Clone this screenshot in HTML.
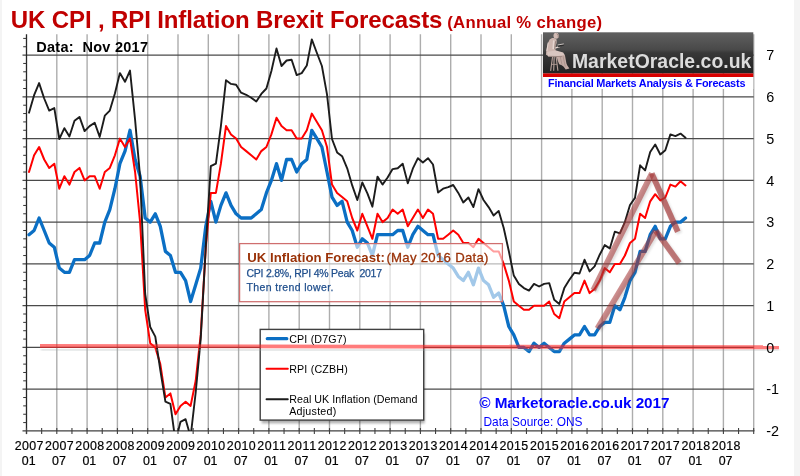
<!DOCTYPE html><html><head><meta charset="utf-8"><title>UK CPI, RPI Inflation Brexit Forecasts</title><style>
html,body{margin:0;padding:0;}
body{width:800px;height:476px;position:relative;overflow:hidden;background:#f4f4f4;font-family:"Liberation Sans",sans-serif;}
#canvas{position:absolute;left:2px;top:0;width:792px;height:476px;background:#fff;}
</style></head><body>
<div id="canvas"></div>
<svg width="800" height="476" viewBox="0 0 800 476" style="position:absolute;left:0;top:0">
<defs><clipPath id="plot"><rect x="24.5" y="34.2" width="731.2" height="396.7"/></clipPath>
<linearGradient id="lg" x1="0" y1="0" x2="0" y2="1"><stop offset="0" stop-color="#606060"/><stop offset="0.42" stop-color="#494949"/><stop offset="0.5" stop-color="#383838"/><stop offset="1" stop-color="#222"/></linearGradient>
<filter id="sh" x="-5%" y="-5%" width="115%" height="115%"><feGaussianBlur stdDeviation="1.2"/></filter>
<filter id="b1"><feGaussianBlur stdDeviation="0.8"/></filter>
</defs>
<line x1="56.80" y1="34.2" x2="56.80" y2="430.9" stroke="#adadad" stroke-width="1.4"/>
<line x1="87.10" y1="34.2" x2="87.10" y2="430.9" stroke="#adadad" stroke-width="1.4"/>
<line x1="117.40" y1="34.2" x2="117.40" y2="430.9" stroke="#adadad" stroke-width="1.4"/>
<line x1="147.70" y1="34.2" x2="147.70" y2="430.9" stroke="#adadad" stroke-width="1.4"/>
<line x1="178.00" y1="34.2" x2="178.00" y2="430.9" stroke="#adadad" stroke-width="1.4"/>
<line x1="208.30" y1="34.2" x2="208.30" y2="430.9" stroke="#adadad" stroke-width="1.4"/>
<line x1="238.60" y1="34.2" x2="238.60" y2="430.9" stroke="#adadad" stroke-width="1.4"/>
<line x1="268.90" y1="34.2" x2="268.90" y2="430.9" stroke="#adadad" stroke-width="1.4"/>
<line x1="299.20" y1="34.2" x2="299.20" y2="430.9" stroke="#adadad" stroke-width="1.4"/>
<line x1="329.50" y1="34.2" x2="329.50" y2="430.9" stroke="#adadad" stroke-width="1.4"/>
<line x1="359.80" y1="34.2" x2="359.80" y2="430.9" stroke="#adadad" stroke-width="1.4"/>
<line x1="390.10" y1="34.2" x2="390.10" y2="430.9" stroke="#adadad" stroke-width="1.4"/>
<line x1="420.40" y1="34.2" x2="420.40" y2="430.9" stroke="#adadad" stroke-width="1.4"/>
<line x1="450.70" y1="34.2" x2="450.70" y2="430.9" stroke="#adadad" stroke-width="1.4"/>
<line x1="481.00" y1="34.2" x2="481.00" y2="430.9" stroke="#adadad" stroke-width="1.4"/>
<line x1="511.30" y1="34.2" x2="511.30" y2="430.9" stroke="#adadad" stroke-width="1.4"/>
<line x1="541.60" y1="34.2" x2="541.60" y2="430.9" stroke="#adadad" stroke-width="1.4"/>
<line x1="571.90" y1="34.2" x2="571.90" y2="430.9" stroke="#adadad" stroke-width="1.4"/>
<line x1="602.20" y1="34.2" x2="602.20" y2="430.9" stroke="#adadad" stroke-width="1.4"/>
<line x1="632.50" y1="34.2" x2="632.50" y2="430.9" stroke="#adadad" stroke-width="1.4"/>
<line x1="662.80" y1="34.2" x2="662.80" y2="430.9" stroke="#adadad" stroke-width="1.4"/>
<line x1="693.10" y1="34.2" x2="693.10" y2="430.9" stroke="#adadad" stroke-width="1.4"/>
<line x1="723.40" y1="34.2" x2="723.40" y2="430.9" stroke="#adadad" stroke-width="1.4"/>
<line x1="753.70" y1="34.2" x2="753.70" y2="430.9" stroke="#adadad" stroke-width="1.4"/>
<line x1="22.5" y1="389.18" x2="753.7" y2="389.18" stroke="#4a4a4a" stroke-width="1.3"/>
<line x1="22.5" y1="347.42" x2="753.7" y2="347.42" stroke="#4a4a4a" stroke-width="1.3"/>
<line x1="22.5" y1="305.66" x2="753.7" y2="305.66" stroke="#4a4a4a" stroke-width="1.3"/>
<line x1="22.5" y1="263.90" x2="753.7" y2="263.90" stroke="#4a4a4a" stroke-width="1.3"/>
<line x1="22.5" y1="222.14" x2="753.7" y2="222.14" stroke="#4a4a4a" stroke-width="1.3"/>
<line x1="22.5" y1="180.38" x2="753.7" y2="180.38" stroke="#4a4a4a" stroke-width="1.3"/>
<line x1="22.5" y1="138.62" x2="753.7" y2="138.62" stroke="#4a4a4a" stroke-width="1.3"/>
<line x1="22.5" y1="96.86" x2="753.7" y2="96.86" stroke="#4a4a4a" stroke-width="1.3"/>
<line x1="22.5" y1="55.10" x2="753.7" y2="55.10" stroke="#4a4a4a" stroke-width="1.3"/>
<line x1="26.50" y1="34.2" x2="26.50" y2="433.9" stroke="#262626" stroke-width="1.3"/>
<line x1="22.5" y1="430.94" x2="754.4" y2="430.94" stroke="#404040" stroke-width="1.3"/>
<line x1="23.2" y1="422.59" x2="26.5" y2="422.59" stroke="#333" stroke-width="1"/>
<line x1="23.2" y1="414.24" x2="26.5" y2="414.24" stroke="#333" stroke-width="1"/>
<line x1="23.2" y1="405.88" x2="26.5" y2="405.88" stroke="#333" stroke-width="1"/>
<line x1="23.2" y1="397.53" x2="26.5" y2="397.53" stroke="#333" stroke-width="1"/>
<line x1="23.2" y1="380.83" x2="26.5" y2="380.83" stroke="#333" stroke-width="1"/>
<line x1="23.2" y1="372.48" x2="26.5" y2="372.48" stroke="#333" stroke-width="1"/>
<line x1="23.2" y1="364.12" x2="26.5" y2="364.12" stroke="#333" stroke-width="1"/>
<line x1="23.2" y1="355.77" x2="26.5" y2="355.77" stroke="#333" stroke-width="1"/>
<line x1="23.2" y1="339.07" x2="26.5" y2="339.07" stroke="#333" stroke-width="1"/>
<line x1="23.2" y1="330.72" x2="26.5" y2="330.72" stroke="#333" stroke-width="1"/>
<line x1="23.2" y1="322.36" x2="26.5" y2="322.36" stroke="#333" stroke-width="1"/>
<line x1="23.2" y1="314.01" x2="26.5" y2="314.01" stroke="#333" stroke-width="1"/>
<line x1="23.2" y1="297.31" x2="26.5" y2="297.31" stroke="#333" stroke-width="1"/>
<line x1="23.2" y1="288.96" x2="26.5" y2="288.96" stroke="#333" stroke-width="1"/>
<line x1="23.2" y1="280.60" x2="26.5" y2="280.60" stroke="#333" stroke-width="1"/>
<line x1="23.2" y1="272.25" x2="26.5" y2="272.25" stroke="#333" stroke-width="1"/>
<line x1="23.2" y1="255.55" x2="26.5" y2="255.55" stroke="#333" stroke-width="1"/>
<line x1="23.2" y1="247.20" x2="26.5" y2="247.20" stroke="#333" stroke-width="1"/>
<line x1="23.2" y1="238.84" x2="26.5" y2="238.84" stroke="#333" stroke-width="1"/>
<line x1="23.2" y1="230.49" x2="26.5" y2="230.49" stroke="#333" stroke-width="1"/>
<line x1="23.2" y1="213.79" x2="26.5" y2="213.79" stroke="#333" stroke-width="1"/>
<line x1="23.2" y1="205.44" x2="26.5" y2="205.44" stroke="#333" stroke-width="1"/>
<line x1="23.2" y1="197.08" x2="26.5" y2="197.08" stroke="#333" stroke-width="1"/>
<line x1="23.2" y1="188.73" x2="26.5" y2="188.73" stroke="#333" stroke-width="1"/>
<line x1="23.2" y1="172.03" x2="26.5" y2="172.03" stroke="#333" stroke-width="1"/>
<line x1="23.2" y1="163.68" x2="26.5" y2="163.68" stroke="#333" stroke-width="1"/>
<line x1="23.2" y1="155.32" x2="26.5" y2="155.32" stroke="#333" stroke-width="1"/>
<line x1="23.2" y1="146.97" x2="26.5" y2="146.97" stroke="#333" stroke-width="1"/>
<line x1="23.2" y1="130.27" x2="26.5" y2="130.27" stroke="#333" stroke-width="1"/>
<line x1="23.2" y1="121.92" x2="26.5" y2="121.92" stroke="#333" stroke-width="1"/>
<line x1="23.2" y1="113.56" x2="26.5" y2="113.56" stroke="#333" stroke-width="1"/>
<line x1="23.2" y1="105.21" x2="26.5" y2="105.21" stroke="#333" stroke-width="1"/>
<line x1="23.2" y1="88.51" x2="26.5" y2="88.51" stroke="#333" stroke-width="1"/>
<line x1="23.2" y1="80.16" x2="26.5" y2="80.16" stroke="#333" stroke-width="1"/>
<line x1="23.2" y1="71.80" x2="26.5" y2="71.80" stroke="#333" stroke-width="1"/>
<line x1="23.2" y1="63.45" x2="26.5" y2="63.45" stroke="#333" stroke-width="1"/>
<line x1="23.2" y1="46.75" x2="26.5" y2="46.75" stroke="#333" stroke-width="1"/>
<line x1="23.2" y1="38.40" x2="26.5" y2="38.40" stroke="#333" stroke-width="1"/>
<line x1="26.50" y1="428.1" x2="26.50" y2="434.1" stroke="#404040" stroke-width="1.1"/>
<line x1="41.65" y1="428.1" x2="41.65" y2="434.1" stroke="#404040" stroke-width="1.1"/>
<line x1="56.80" y1="428.1" x2="56.80" y2="434.1" stroke="#404040" stroke-width="1.1"/>
<line x1="71.95" y1="428.1" x2="71.95" y2="434.1" stroke="#404040" stroke-width="1.1"/>
<line x1="87.10" y1="428.1" x2="87.10" y2="434.1" stroke="#404040" stroke-width="1.1"/>
<line x1="102.25" y1="428.1" x2="102.25" y2="434.1" stroke="#404040" stroke-width="1.1"/>
<line x1="117.40" y1="428.1" x2="117.40" y2="434.1" stroke="#404040" stroke-width="1.1"/>
<line x1="132.55" y1="428.1" x2="132.55" y2="434.1" stroke="#404040" stroke-width="1.1"/>
<line x1="147.70" y1="428.1" x2="147.70" y2="434.1" stroke="#404040" stroke-width="1.1"/>
<line x1="162.85" y1="428.1" x2="162.85" y2="434.1" stroke="#404040" stroke-width="1.1"/>
<line x1="178.00" y1="428.1" x2="178.00" y2="434.1" stroke="#404040" stroke-width="1.1"/>
<line x1="193.15" y1="428.1" x2="193.15" y2="434.1" stroke="#404040" stroke-width="1.1"/>
<line x1="208.30" y1="428.1" x2="208.30" y2="434.1" stroke="#404040" stroke-width="1.1"/>
<line x1="223.45" y1="428.1" x2="223.45" y2="434.1" stroke="#404040" stroke-width="1.1"/>
<line x1="238.60" y1="428.1" x2="238.60" y2="434.1" stroke="#404040" stroke-width="1.1"/>
<line x1="253.75" y1="428.1" x2="253.75" y2="434.1" stroke="#404040" stroke-width="1.1"/>
<line x1="268.90" y1="428.1" x2="268.90" y2="434.1" stroke="#404040" stroke-width="1.1"/>
<line x1="284.05" y1="428.1" x2="284.05" y2="434.1" stroke="#404040" stroke-width="1.1"/>
<line x1="299.20" y1="428.1" x2="299.20" y2="434.1" stroke="#404040" stroke-width="1.1"/>
<line x1="314.35" y1="428.1" x2="314.35" y2="434.1" stroke="#404040" stroke-width="1.1"/>
<line x1="329.50" y1="428.1" x2="329.50" y2="434.1" stroke="#404040" stroke-width="1.1"/>
<line x1="344.65" y1="428.1" x2="344.65" y2="434.1" stroke="#404040" stroke-width="1.1"/>
<line x1="359.80" y1="428.1" x2="359.80" y2="434.1" stroke="#404040" stroke-width="1.1"/>
<line x1="374.95" y1="428.1" x2="374.95" y2="434.1" stroke="#404040" stroke-width="1.1"/>
<line x1="390.10" y1="428.1" x2="390.10" y2="434.1" stroke="#404040" stroke-width="1.1"/>
<line x1="405.25" y1="428.1" x2="405.25" y2="434.1" stroke="#404040" stroke-width="1.1"/>
<line x1="420.40" y1="428.1" x2="420.40" y2="434.1" stroke="#404040" stroke-width="1.1"/>
<line x1="435.55" y1="428.1" x2="435.55" y2="434.1" stroke="#404040" stroke-width="1.1"/>
<line x1="450.70" y1="428.1" x2="450.70" y2="434.1" stroke="#404040" stroke-width="1.1"/>
<line x1="465.85" y1="428.1" x2="465.85" y2="434.1" stroke="#404040" stroke-width="1.1"/>
<line x1="481.00" y1="428.1" x2="481.00" y2="434.1" stroke="#404040" stroke-width="1.1"/>
<line x1="496.15" y1="428.1" x2="496.15" y2="434.1" stroke="#404040" stroke-width="1.1"/>
<line x1="511.30" y1="428.1" x2="511.30" y2="434.1" stroke="#404040" stroke-width="1.1"/>
<line x1="526.45" y1="428.1" x2="526.45" y2="434.1" stroke="#404040" stroke-width="1.1"/>
<line x1="541.60" y1="428.1" x2="541.60" y2="434.1" stroke="#404040" stroke-width="1.1"/>
<line x1="556.75" y1="428.1" x2="556.75" y2="434.1" stroke="#404040" stroke-width="1.1"/>
<line x1="571.90" y1="428.1" x2="571.90" y2="434.1" stroke="#404040" stroke-width="1.1"/>
<line x1="587.05" y1="428.1" x2="587.05" y2="434.1" stroke="#404040" stroke-width="1.1"/>
<line x1="602.20" y1="428.1" x2="602.20" y2="434.1" stroke="#404040" stroke-width="1.1"/>
<line x1="617.35" y1="428.1" x2="617.35" y2="434.1" stroke="#404040" stroke-width="1.1"/>
<line x1="632.50" y1="428.1" x2="632.50" y2="434.1" stroke="#404040" stroke-width="1.1"/>
<line x1="647.65" y1="428.1" x2="647.65" y2="434.1" stroke="#404040" stroke-width="1.1"/>
<line x1="662.80" y1="428.1" x2="662.80" y2="434.1" stroke="#404040" stroke-width="1.1"/>
<line x1="677.95" y1="428.1" x2="677.95" y2="434.1" stroke="#404040" stroke-width="1.1"/>
<line x1="693.10" y1="428.1" x2="693.10" y2="434.1" stroke="#404040" stroke-width="1.1"/>
<line x1="708.25" y1="428.1" x2="708.25" y2="434.1" stroke="#404040" stroke-width="1.1"/>
<line x1="723.40" y1="428.1" x2="723.40" y2="434.1" stroke="#404040" stroke-width="1.1"/>
<line x1="738.55" y1="428.1" x2="738.55" y2="434.1" stroke="#404040" stroke-width="1.1"/>
<line x1="753.70" y1="428.1" x2="753.70" y2="434.1" stroke="#404040" stroke-width="1.1"/>
<g clip-path="url(#plot)" fill="none" stroke-linejoin="round" stroke-linecap="round">
<polyline points="29.0,234.7 34.1,230.5 39.1,218.0 44.2,230.5 49.2,243.0 54.3,247.2 59.3,268.1 64.4,272.3 69.4,272.3 74.5,259.7 79.5,259.7 84.6,259.7 89.6,255.5 94.7,243.0 99.7,243.0 104.8,222.1 109.8,209.6 114.9,188.7 119.9,163.7 125.0,151.1 130.0,130.3 135.1,159.5 140.1,176.2 145.2,218.0 150.2,222.1 155.3,213.8 160.3,226.3 165.4,251.4 170.4,255.5 175.5,272.3 180.5,272.3 185.6,280.6 190.6,301.5 195.7,284.8 200.7,268.1 205.8,226.3 210.8,201.3 215.9,222.1 220.9,205.4 226.0,192.9 231.0,205.4 236.1,213.8 241.1,218.0 246.2,218.0 251.2,218.0 256.3,213.8 261.3,209.6 266.4,192.9 271.4,180.4 276.5,163.7 281.5,180.4 286.6,159.5 291.6,159.5 296.7,172.0 301.7,163.7 306.8,159.5 311.8,130.3 316.9,138.6 321.9,147.0 327.0,172.0 332.0,197.1 337.1,205.4 342.1,201.3 347.2,222.1 352.2,230.5 357.3,247.2 362.3,238.8 367.4,243.0 372.4,255.5 377.5,234.7 382.5,234.7 387.6,234.7 392.6,234.7 397.7,230.5 402.7,230.5 407.8,247.2 412.8,234.7 417.9,226.3 422.9,230.5 428.0,234.7 433.0,234.7 438.1,255.5 443.1,259.7 448.2,263.9 453.2,268.1 458.3,276.4 463.3,280.6 468.4,272.3 473.4,284.8 478.5,268.1 483.5,280.6 488.6,284.8 493.6,297.3 498.7,293.1 503.7,305.7 508.8,326.5 513.8,334.9 518.9,347.4 523.9,347.4 529.0,351.6 534.0,343.2 539.1,347.4 544.1,343.2 549.2,347.4 554.2,351.6 559.3,351.6 564.3,343.2 569.4,339.1 574.4,334.9 579.5,334.9 584.5,326.5 589.6,334.9 594.6,334.9 599.7,326.5 604.7,322.4 609.8,322.4 614.8,305.7 619.9,309.8 624.9,297.3 630.0,280.6 635.0,272.3 640.1,251.4 645.1,251.4 650.2,234.7 655.2,226.3 660.3,238.8 665.3,238.8 670.4,226.3 675.4,222.1 680.5,222.1 685.5,218.0" stroke="#0b6fc4" stroke-width="3.3"/>
<polyline points="29.0,172.0 34.1,155.3 39.1,147.0 44.2,159.5 49.2,167.9 54.3,163.7 59.3,188.7 64.4,176.2 69.4,184.6 74.5,172.0 79.5,167.9 84.6,180.4 89.6,176.2 94.7,176.2 99.7,188.7 104.8,172.0 109.8,167.9 114.9,155.3 119.9,138.6 125.0,147.0 130.0,138.6 135.1,172.0 140.1,222.1 145.2,309.8 150.2,343.2 155.3,347.4 160.3,364.1 165.4,397.5 170.4,393.4 175.5,414.2 180.5,405.9 185.6,401.7 190.6,405.9 195.7,380.8 200.7,334.9 205.8,247.2 210.8,192.9 215.9,192.9 220.9,163.7 226.0,126.1 231.0,134.4 236.1,138.6 241.1,147.0 246.2,151.1 251.2,155.3 256.3,159.5 261.3,151.1 266.4,147.0 271.4,134.4 276.5,117.7 281.5,126.1 286.6,130.3 291.6,130.3 296.7,138.6 301.7,138.6 306.8,130.3 311.8,113.6 316.9,121.9 321.9,130.3 327.0,147.0 332.0,184.6 337.1,192.9 342.1,197.1 347.2,201.3 352.2,218.0 357.3,230.5 362.3,213.8 367.4,226.3 372.4,238.8 377.5,213.8 382.5,222.1 387.6,218.0 392.6,209.6 397.7,213.8 402.7,209.6 407.8,226.3 412.8,218.0 417.9,209.6 422.9,218.0 428.0,209.6 433.0,213.8 438.1,238.8 443.1,238.8 448.2,234.7 453.2,230.5 458.3,234.7 463.3,243.0 468.4,243.0 473.4,247.2 478.5,238.8 483.5,243.0 488.6,247.2 493.6,251.4 498.7,251.4 503.7,263.9 508.8,280.6 513.8,301.5 518.9,305.7 523.9,309.8 529.0,309.8 534.0,305.7 539.1,305.7 544.1,305.7 549.2,301.5 554.2,314.0 559.3,318.2 564.3,301.5 569.4,297.3 574.4,293.1 579.5,293.1 584.5,280.6 589.6,293.1 594.6,289.0 599.7,280.6 604.7,268.1 609.8,272.3 614.8,263.9 619.9,263.9 624.9,255.5 630.0,243.0 635.0,238.8 640.1,213.8 645.1,218.0 650.2,201.3 655.2,194.2 660.3,200.4 665.3,197.5 670.4,184.6 675.4,186.6 680.5,181.2 685.5,185.4" stroke="#ff0000" stroke-width="2.0"/>
<polyline points="29.0,112.7 34.1,95.2 39.1,83.1 44.2,98.5 49.2,110.6 54.3,108.1 59.3,139.0 64.4,128.2 69.4,136.5 74.5,120.7 79.5,116.9 84.6,131.1 89.6,126.1 94.7,122.8 99.7,136.9 104.8,115.7 109.8,110.6 114.9,93.5 119.9,73.1 125.0,81.8 130.0,70.6 135.1,119.8 140.1,177.0 145.2,294.0 150.2,327.0 155.3,336.6 160.3,370.0 165.4,401.7 170.4,403.8 175.5,441.8 180.5,421.8 185.6,419.2 190.6,436.8 195.7,392.5 200.7,339.1 205.8,246.4 210.8,166.2 215.9,163.7 220.9,126.1 226.0,80.2 231.0,83.9 236.1,84.7 241.1,92.7 246.2,94.8 251.2,97.7 256.3,101.5 261.3,93.9 266.4,88.5 271.4,71.0 276.5,48.4 281.5,66.0 286.6,60.5 291.6,59.7 296.7,75.1 301.7,73.1 306.8,65.5 311.8,39.4 316.9,53.0 321.9,66.0 327.0,94.4 332.0,139.0 337.1,152.4 342.1,156.2 347.2,168.3 352.2,185.4 357.3,200.0 362.3,182.5 367.4,193.3 372.4,206.7 377.5,176.6 382.5,184.6 387.6,177.5 392.6,169.1 397.7,168.3 402.7,163.7 407.8,183.3 412.8,168.7 417.9,158.2 422.9,162.4 428.0,158.2 433.0,164.5 438.1,192.5 443.1,188.7 448.2,187.1 453.2,185.0 458.3,192.9 463.3,202.5 468.4,197.5 473.4,207.1 478.5,189.1 483.5,200.0 488.6,207.1 493.6,215.5 498.7,210.9 503.7,228.0 508.8,251.0 513.8,275.6 518.9,283.9 523.9,288.1 529.0,290.6 534.0,283.9 539.1,286.5 544.1,283.9 549.2,283.1 554.2,299.8 559.3,304.0 564.3,288.1 569.4,279.8 574.4,272.7 579.5,273.5 584.5,259.7 589.6,271.4 594.6,266.4 599.7,254.7 604.7,245.1 609.8,248.4 614.8,231.7 619.9,233.4 624.9,222.1 630.0,205.0 635.0,197.9 640.1,165.3 645.1,170.4 650.2,152.0 655.2,144.5 660.3,154.5 665.3,150.3 670.4,134.4 675.4,136.1 680.5,133.6 685.5,137.8" stroke="#1c1c1c" stroke-width="1.9"/>
</g>
<rect x="239.6" y="243.6" width="262.8" height="58.1" fill="rgba(255,255,255,0.62)" stroke="#cf6e6e" stroke-width="1.25"/>
<rect x="261.6" y="333.4" width="163.2" height="90.0" fill="#000" opacity="0.30" filter="url(#sh)"/>
<rect x="260.2" y="329.4" width="163.5" height="90.7" fill="#fff" stroke="#404040" stroke-width="1.4"/>
<line x1="267.3" y1="338.65" x2="286.8" y2="338.65" stroke-linecap="round" stroke="#0b6fc4" stroke-width="3.3"/>
<line x1="266.5" y1="368.8" x2="287.8" y2="368.8" stroke-linecap="round" stroke="#ff0000" stroke-width="2.0"/>
<line x1="266.5" y1="399.2" x2="287.8" y2="399.2" stroke-linecap="round" stroke="#1c1c1c" stroke-width="1.9"/>
<g fill="none" stroke-width="5.8" stroke-linecap="butt">
<g stroke="#555" opacity="0.18" filter="url(#b1)" transform="translate(1.6,1.6)"><line x1="593.2" y1="290.2" x2="651.9" y2="173.4"/><line x1="651.7" y1="173.4" x2="677.8" y2="231.8"/><line x1="597.4" y1="328.6" x2="656.0" y2="230.8"/><line x1="655.8" y1="230.8" x2="679.2" y2="263.0"/></g>
<line x1="593.2" y1="290.2" x2="651.9" y2="173.4" stroke="rgba(165,55,55,0.56)"/>
<line x1="651.7" y1="173.4" x2="677.8" y2="231.8" stroke="rgba(165,55,55,0.68)"/>
<line x1="597.4" y1="328.6" x2="656.0" y2="230.8" stroke="rgba(165,55,55,0.56)"/>
<line x1="655.8" y1="230.8" x2="679.2" y2="263.0" stroke="rgba(165,55,55,0.64)"/>
</g>
<line x1="41" y1="349.5" x2="779" y2="350.8" stroke="#9aa4a4" stroke-width="2.0" opacity="0.42" filter="url(#b1)"/>
<line x1="40" y1="346.0" x2="779" y2="347.3" stroke="rgba(255,35,35,0.60)" stroke-width="3.9"/>
<rect x="543" y="32.3" width="210.3" height="41.2" fill="url(#lg)"/>
<rect x="543" y="73.4" width="210.3" height="3.6" fill="#d80000"/>
<rect x="543" y="77" width="210.3" height="12" fill="#fff"/>
<g>
<g stroke="#b9a29b" stroke-width="1.1" fill="none"><line x1="552.6" y1="56.5" x2="550.6" y2="70.8"/><line x1="556.1" y1="56.5" x2="557.9" y2="70.8"/><line x1="554.2" y1="56.5" x2="553.7" y2="70.8"/><line x1="551.4" y1="64.4" x2="557.2" y2="64.4" stroke-width="0.8"/></g>
<path d="M552.1,38.1 L549.6,39.6 L547.6,44.1 L546.3,50.2 L546,54.7 L549.1,56.6 L555.1,56.2 L556.1,51.7 L555.1,48.1 L556.6,43.1 L556.6,39.6 L554.1,37.9 Z" fill="#cdb6af"/>
<path d="M547.1,51.7 L556.1,50.5 L563.2,52.5 L564.9,55.2 L562.2,56.8 L555.1,56.8 L548.1,56.6 Z" fill="#d9c6c0"/>
<path d="M556.6,56.2 L564.9,55.0 L566.4,63.3 L567.2,65.3 L569.4,68.6 L565.7,69.4 L563.7,66.8 L561.7,65.3 L559.2,64.3 L557.6,60.2 Z" fill="#c4aba4"/>
<path d="M560.2,56.5 L562.0,64.8 M563.0,56 L565.3,66.5" stroke="#9c8680" stroke-width="0.6" fill="none"/>
<ellipse cx="556.1" cy="35.8" rx="2.6" ry="3.0" fill="#d2bbb4"/>
<path d="M553.7,41.0 L553.2,48.6 L559.6,46.6" stroke="#e6d6d0" stroke-width="1.5" fill="none" stroke-linejoin="round" stroke-linecap="round"/>
<path d="M557.8,45.3 L563.8,44.2 L564.1,45.4 L558.3,47.2 Z" fill="#2a2a2a"/><path d="M557.6,45.0 L563.8,43.9" stroke="#e8e0dc" stroke-width="0.8"/>
<path d="M555.6,41.2 L554.6,49.2" stroke="#8f7a74" stroke-width="0.9" fill="none"/>
<path d="M548.2,42.5 L546.9,51" stroke="#e8dad5" stroke-width="0.9" fill="none"/>
<path d="M556.5,33.6 Q558.9,34.6 558.2,37.6" stroke="#a08a84" stroke-width="1.0" fill="none"/>
<path d="M549,56.3 L562,56.6" stroke="#8f7a74" stroke-width="0.7" fill="none"/>
</g>
<g font-family="Liberation Sans, sans-serif" opacity="0.999">
<text xml:space="preserve" x="10.82" y="27.75" font-size="24.00" fill="#c00000" font-weight="bold" textLength="431.54" lengthAdjust="spacing" >UK CPI , RPI Inflation Brexit Forecasts</text>
<text xml:space="preserve" x="447.23" y="27.85" font-size="16.70" fill="#c00000" font-weight="bold" textLength="154.94" lengthAdjust="spacing" >(Annual % change)</text>
<text xml:space="preserve" x="36.28" y="51.60" font-size="14.50" fill="#000" font-weight="bold" textLength="111.70" lengthAdjust="spacing" >Data:  Nov 2017</text>
<text xml:space="preserve" x="571.94" y="67.80" font-size="19.40" fill="#dcdcdc" font-weight="bold" textLength="179.43" lengthAdjust="spacing" >MarketOracle.co.uk</text>
<text xml:space="preserve" x="547.94" y="86.80" font-size="10.90" fill="#0000ff" font-weight="bold" textLength="197.50" lengthAdjust="spacing" >Financial Markets Analysis &amp; Forecasts</text>
<text xml:space="preserve" x="247.28" y="261.70" font-size="13.20" fill="#9a3208" font-weight="bold" textLength="137.55" lengthAdjust="spacing" >UK Inflation Forecast:</text>
<text xml:space="preserve" x="386.38" y="261.90" font-size="13.20" fill="#9a3208" textLength="102.15" lengthAdjust="spacing" stroke="#9a3208" stroke-width="0.3">(May 2016 Data)</text>
<text xml:space="preserve" x="246.46" y="277.00" font-size="10.50" fill="#1f4e8c" textLength="135.56" lengthAdjust="spacing" stroke="#1f4e8c" stroke-width="0.25">CPI 2.8%, RPI 4% Peak  2017</text>
<text xml:space="preserve" x="246.46" y="291.00" font-size="10.50" fill="#1f4e8c" textLength="86.96" lengthAdjust="spacing" stroke="#1f4e8c" stroke-width="0.25">Then trend lower.</text>
<text xml:space="preserve" x="289.15" y="342.70" font-size="10.70" fill="#000" textLength="57.38" lengthAdjust="spacing" >CPI (D7G7)</text>
<text xml:space="preserve" x="289.15" y="372.90" font-size="10.70" fill="#000" textLength="58.58" lengthAdjust="spacing" >RPI (CZBH)</text>
<text xml:space="preserve" x="289.15" y="402.60" font-size="10.70" fill="#000" textLength="128.28" lengthAdjust="spacing" >Real UK Inflation (Demand</text>
<text xml:space="preserve" x="289.15" y="415.00" font-size="10.70" fill="#000" letter-spacing="0.25">Adjusted)</text>
<text xml:space="preserve" x="479.33" y="408.40" font-size="15.30" fill="#0000ff" font-weight="bold" textLength="190.08" lengthAdjust="spacing" >© Marketoracle.co.uk 2017</text>
<text xml:space="preserve" x="483.47" y="425.70" font-size="11.90" fill="#0000ff" textLength="99.01" lengthAdjust="spacing" >Data Source: ONS</text>
<text x="29.12" y="449.7" font-size="12.4" text-anchor="middle" fill="#000" stroke="#000" stroke-width="0.2" textLength="28.7" lengthAdjust="spacing">2007</text>
<text x="28.72" y="464.7" font-size="12.4" text-anchor="middle" fill="#000" stroke="#000" stroke-width="0.2">01</text>
<text x="59.42" y="449.7" font-size="12.4" text-anchor="middle" fill="#000" stroke="#000" stroke-width="0.2" textLength="28.7" lengthAdjust="spacing">2007</text>
<text x="59.02" y="464.7" font-size="12.4" text-anchor="middle" fill="#000" stroke="#000" stroke-width="0.2">07</text>
<text x="89.72" y="449.7" font-size="12.4" text-anchor="middle" fill="#000" stroke="#000" stroke-width="0.2" textLength="28.7" lengthAdjust="spacing">2008</text>
<text x="89.33" y="464.7" font-size="12.4" text-anchor="middle" fill="#000" stroke="#000" stroke-width="0.2">01</text>
<text x="120.03" y="449.7" font-size="12.4" text-anchor="middle" fill="#000" stroke="#000" stroke-width="0.2" textLength="28.7" lengthAdjust="spacing">2008</text>
<text x="119.63" y="464.7" font-size="12.4" text-anchor="middle" fill="#000" stroke="#000" stroke-width="0.2">07</text>
<text x="150.32" y="449.7" font-size="12.4" text-anchor="middle" fill="#000" stroke="#000" stroke-width="0.2" textLength="28.7" lengthAdjust="spacing">2009</text>
<text x="149.92" y="464.7" font-size="12.4" text-anchor="middle" fill="#000" stroke="#000" stroke-width="0.2">01</text>
<text x="180.62" y="449.7" font-size="12.4" text-anchor="middle" fill="#000" stroke="#000" stroke-width="0.2" textLength="28.7" lengthAdjust="spacing">2009</text>
<text x="180.22" y="464.7" font-size="12.4" text-anchor="middle" fill="#000" stroke="#000" stroke-width="0.2">07</text>
<text x="210.93" y="449.7" font-size="12.4" text-anchor="middle" fill="#000" stroke="#000" stroke-width="0.2" textLength="28.7" lengthAdjust="spacing">2010</text>
<text x="210.53" y="464.7" font-size="12.4" text-anchor="middle" fill="#000" stroke="#000" stroke-width="0.2">01</text>
<text x="241.22" y="449.7" font-size="12.4" text-anchor="middle" fill="#000" stroke="#000" stroke-width="0.2" textLength="28.7" lengthAdjust="spacing">2010</text>
<text x="240.82" y="464.7" font-size="12.4" text-anchor="middle" fill="#000" stroke="#000" stroke-width="0.2">07</text>
<text x="271.52" y="449.7" font-size="12.4" text-anchor="middle" fill="#000" stroke="#000" stroke-width="0.2" textLength="28.7" lengthAdjust="spacing">2011</text>
<text x="271.12" y="464.7" font-size="12.4" text-anchor="middle" fill="#000" stroke="#000" stroke-width="0.2">01</text>
<text x="301.82" y="449.7" font-size="12.4" text-anchor="middle" fill="#000" stroke="#000" stroke-width="0.2" textLength="28.7" lengthAdjust="spacing">2011</text>
<text x="301.42" y="464.7" font-size="12.4" text-anchor="middle" fill="#000" stroke="#000" stroke-width="0.2">07</text>
<text x="332.12" y="449.7" font-size="12.4" text-anchor="middle" fill="#000" stroke="#000" stroke-width="0.2" textLength="28.7" lengthAdjust="spacing">2012</text>
<text x="331.72" y="464.7" font-size="12.4" text-anchor="middle" fill="#000" stroke="#000" stroke-width="0.2">01</text>
<text x="362.43" y="449.7" font-size="12.4" text-anchor="middle" fill="#000" stroke="#000" stroke-width="0.2" textLength="28.7" lengthAdjust="spacing">2012</text>
<text x="362.02" y="464.7" font-size="12.4" text-anchor="middle" fill="#000" stroke="#000" stroke-width="0.2">07</text>
<text x="392.73" y="449.7" font-size="12.4" text-anchor="middle" fill="#000" stroke="#000" stroke-width="0.2" textLength="28.7" lengthAdjust="spacing">2013</text>
<text x="392.32" y="464.7" font-size="12.4" text-anchor="middle" fill="#000" stroke="#000" stroke-width="0.2">01</text>
<text x="423.03" y="449.7" font-size="12.4" text-anchor="middle" fill="#000" stroke="#000" stroke-width="0.2" textLength="28.7" lengthAdjust="spacing">2013</text>
<text x="422.62" y="464.7" font-size="12.4" text-anchor="middle" fill="#000" stroke="#000" stroke-width="0.2">07</text>
<text x="453.32" y="449.7" font-size="12.4" text-anchor="middle" fill="#000" stroke="#000" stroke-width="0.2" textLength="28.7" lengthAdjust="spacing">2014</text>
<text x="452.92" y="464.7" font-size="12.4" text-anchor="middle" fill="#000" stroke="#000" stroke-width="0.2">01</text>
<text x="483.62" y="449.7" font-size="12.4" text-anchor="middle" fill="#000" stroke="#000" stroke-width="0.2" textLength="28.7" lengthAdjust="spacing">2014</text>
<text x="483.22" y="464.7" font-size="12.4" text-anchor="middle" fill="#000" stroke="#000" stroke-width="0.2">07</text>
<text x="513.93" y="449.7" font-size="12.4" text-anchor="middle" fill="#000" stroke="#000" stroke-width="0.2" textLength="28.7" lengthAdjust="spacing">2015</text>
<text x="513.53" y="464.7" font-size="12.4" text-anchor="middle" fill="#000" stroke="#000" stroke-width="0.2">01</text>
<text x="544.23" y="449.7" font-size="12.4" text-anchor="middle" fill="#000" stroke="#000" stroke-width="0.2" textLength="28.7" lengthAdjust="spacing">2015</text>
<text x="543.83" y="464.7" font-size="12.4" text-anchor="middle" fill="#000" stroke="#000" stroke-width="0.2">07</text>
<text x="574.52" y="449.7" font-size="12.4" text-anchor="middle" fill="#000" stroke="#000" stroke-width="0.2" textLength="28.7" lengthAdjust="spacing">2016</text>
<text x="574.12" y="464.7" font-size="12.4" text-anchor="middle" fill="#000" stroke="#000" stroke-width="0.2">01</text>
<text x="604.83" y="449.7" font-size="12.4" text-anchor="middle" fill="#000" stroke="#000" stroke-width="0.2" textLength="28.7" lengthAdjust="spacing">2016</text>
<text x="604.43" y="464.7" font-size="12.4" text-anchor="middle" fill="#000" stroke="#000" stroke-width="0.2">07</text>
<text x="635.12" y="449.7" font-size="12.4" text-anchor="middle" fill="#000" stroke="#000" stroke-width="0.2" textLength="28.7" lengthAdjust="spacing">2017</text>
<text x="634.73" y="464.7" font-size="12.4" text-anchor="middle" fill="#000" stroke="#000" stroke-width="0.2">01</text>
<text x="665.43" y="449.7" font-size="12.4" text-anchor="middle" fill="#000" stroke="#000" stroke-width="0.2" textLength="28.7" lengthAdjust="spacing">2017</text>
<text x="665.03" y="464.7" font-size="12.4" text-anchor="middle" fill="#000" stroke="#000" stroke-width="0.2">07</text>
<text x="695.73" y="449.7" font-size="12.4" text-anchor="middle" fill="#000" stroke="#000" stroke-width="0.2" textLength="28.7" lengthAdjust="spacing">2018</text>
<text x="695.33" y="464.7" font-size="12.4" text-anchor="middle" fill="#000" stroke="#000" stroke-width="0.2">01</text>
<text x="726.02" y="449.7" font-size="12.4" text-anchor="middle" fill="#000" stroke="#000" stroke-width="0.2" textLength="28.7" lengthAdjust="spacing">2018</text>
<text x="725.62" y="464.7" font-size="12.4" text-anchor="middle" fill="#000" stroke="#000" stroke-width="0.2">07</text>
<text x="766.3" y="436.14" font-size="14.4" fill="#000">-2</text>
<text x="766.3" y="394.38" font-size="14.4" fill="#000">-1</text>
<text x="766.3" y="352.62" font-size="14.4" fill="#000">0</text>
<text x="766.3" y="310.86" font-size="14.4" fill="#000">1</text>
<text x="766.3" y="269.10" font-size="14.4" fill="#000">2</text>
<text x="766.3" y="227.34" font-size="14.4" fill="#000">3</text>
<text x="766.3" y="185.58" font-size="14.4" fill="#000">4</text>
<text x="766.3" y="143.82" font-size="14.4" fill="#000">5</text>
<text x="766.3" y="102.06" font-size="14.4" fill="#000">6</text>
<text x="766.3" y="60.30" font-size="14.4" fill="#000">7</text>
</g>
</svg>
</body></html>
